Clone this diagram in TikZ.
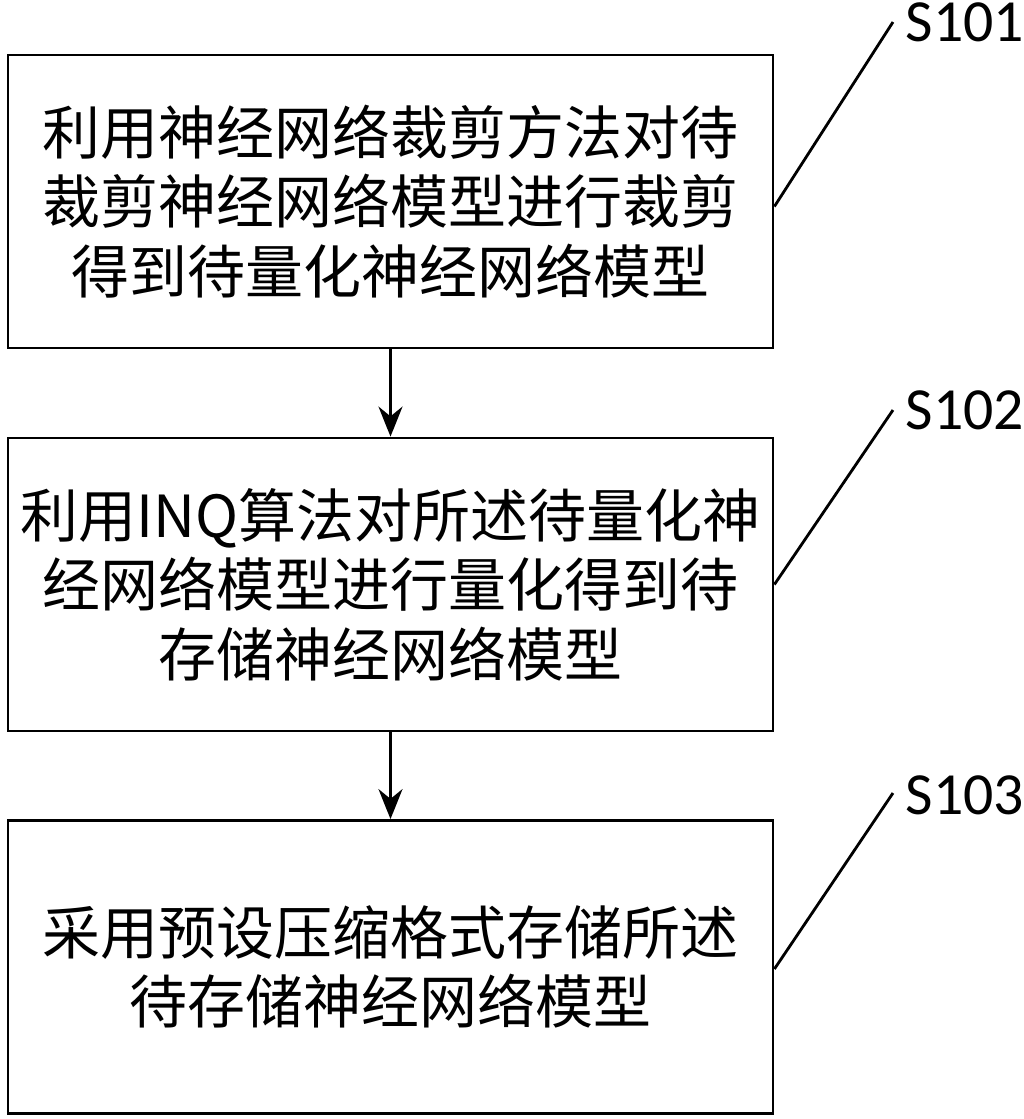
\documentclass[tikz,border=0pt]{standalone}
\usepackage{fontspec}
\setmainfont{Carlito}
\newfontfamily\cjk{Noto Sans CJK SC}
\usetikzlibrary{positioning,arrows.meta}
\tikzset{
  stepbox/.style={draw,thick,minimum width=7.65cm,minimum height=2.93cm,align=center,
    font=\cjk\fontsize{16.5}{19.8}\selectfont,inner sep=0pt},
  tag/.style={font=\fontsize{17}{20}\selectfont,inner sep=0pt},
  flow/.style={thick,-{Stealth[length=3mm,width=2.4mm]}}
}
\begin{document}
\begin{tikzpicture}
	\useasboundingbox (0,0) rectangle (10.24,-11.19);
	% Schritte
	\node [stepbox] (s1) at (3.905,-2.015) {利用神经网络裁剪方法对待\\裁剪神经网络模型进行裁剪\\得到待量化神经网络模型};
	\node [stepbox] (s2) at (3.905,-5.845) {利用INQ算法对所述待量化神\\经网络模型进行量化得到待\\存储神经网络模型};
	\node [stepbox] (s3) at (3.905,-9.67) {采用预设压缩格式存储所述\\待存储神经网络模型};
	\draw [flow] (s1) -- (s2);
	\draw [flow] (s2) -- (s3);
	% Beschriftung
	\node [tag] (t1) at (9.65,-0.22) {S101};
	\node [tag] (t2) at (9.65,-4.1) {S102};
	\node [tag] (t3) at (9.65,-7.95) {S103};
	\coordinate (c1) at (8.93,-0.22);
	\coordinate (c2) at (8.93,-4.1);
	\coordinate (c3) at (8.93,-7.93);
	\draw [thick] (s1.east) ++(0,-0.05) -- (c1);
	\draw [thick] (s2.east) ++(0,0) -- (c2);
	\draw [thick] (s3.east) ++(0,-0.02) -- (c3);
\end{tikzpicture}
\end{document}
